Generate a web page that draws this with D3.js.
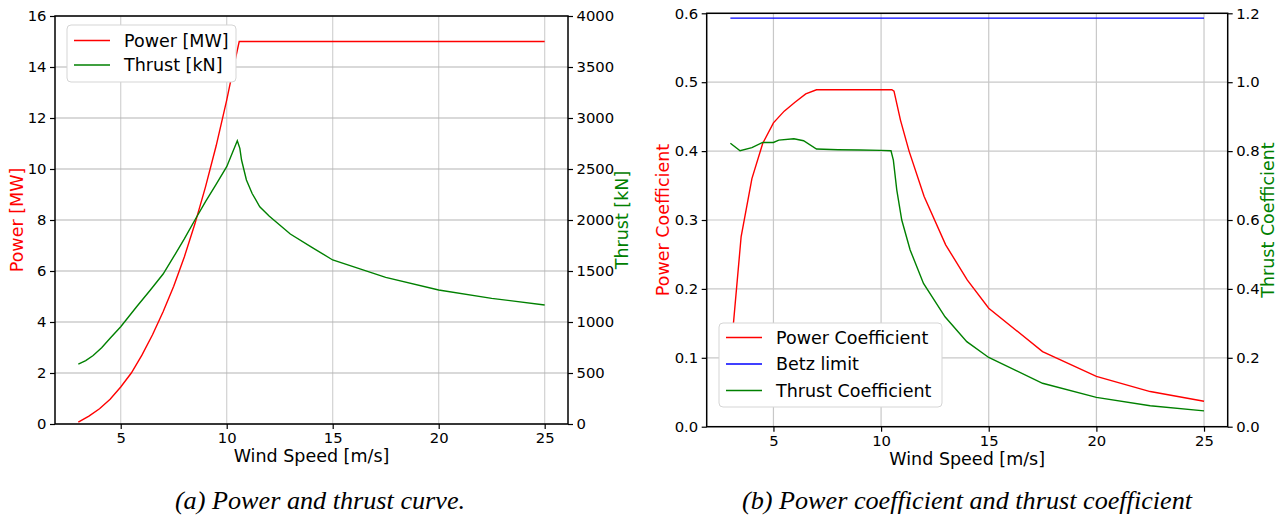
<!DOCTYPE html>
<html>
<head>
<meta charset="utf-8">
<script src="https://cdn.jsdelivr.net/npm/d3@7"></script>
<style>
  body { margin: 0; background: #fff; }
  svg text { font-family: "DejaVu Sans", sans-serif; }
  .caption { font-family: "Liberation Serif", "Times New Roman", serif; font-style: italic; }
</style>
</head>
<body>
<svg id="chart" width="1281" height="520"></svg>
<script>
// ---- data ----

// (a) power curve [MW]
var windPower = [3, 3.5, 4, 4.5, 5, 5.5, 6, 6.5, 7, 7.5, 8, 8.5, 9, 9.5, 10, 10.3, 10.59,
  11, 12, 13, 14, 15, 17.5, 20, 22.5, 25];
var power = [0.07, 0.31, 0.6, 0.97, 1.45, 2.0, 2.7, 3.5, 4.4, 5.4, 6.55, 7.85, 9.3, 10.9, 12.7, 13.9, 15,
  15, 15, 15, 15, 15, 15, 15, 15, 15];

// (a) thrust curve [kN]
var windThrust = [3, 3.35, 3.7, 4.1, 4.5, 5, 5.75, 6.4, 7, 7.5, 8, 8.5, 9, 9.5, 10, 10.5, 10.62, 10.7, 10.93,
  11.2, 11.56, 12, 12.5, 13, 14, 15, 17.5, 20, 22.5, 25];
var thrust = [588, 622, 672, 748, 840, 954, 1150, 1314, 1470, 1640, 1815, 2000, 2180, 2350, 2523, 2777, 2703, 2588, 2392,
  2260, 2130, 2040, 1951, 1863, 1735, 1608, 1438, 1314, 1232, 1167];

// (b) power coefficient
var windCp = [3, 3.5, 4, 4.5, 5, 5.5, 6, 6.5, 7, 8, 9, 10, 10.5, 10.6, 10.9, 11.3,
  12, 13, 14, 15, 17.5, 20, 22.5, 25];
var cp = [0.10, 0.276, 0.36, 0.411, 0.441, 0.458, 0.471, 0.483, 0.489, 0.489, 0.489, 0.489, 0.489, 0.487, 0.445, 0.40,
  0.334, 0.264, 0.213, 0.172, 0.109, 0.073, 0.051, 0.037];

// (b) Betz limit
var windBetz = [3, 25];
var betz = [0.593, 0.593];

// (b) thrust coefficient
var windCt = [3, 3.45, 4, 4.5, 5, 5.25, 5.95, 6.4, 7, 8, 9, 10, 10.46, 10.57, 10.73, 10.96, 11.35,
  11.97, 12.97, 13.98, 15, 17.5, 20, 22.5, 25];
var ct = [0.823, 0.801, 0.810, 0.825, 0.825, 0.832, 0.836, 0.830, 0.806, 0.804, 0.803, 0.802, 0.801, 0.774, 0.687, 0.600, 0.513,
  0.416, 0.319, 0.247, 0.201, 0.126, 0.085, 0.061, 0.046];

var xTicks = [5, 10, 15, 20, 25];

var svg = d3.select("#chart");

function zip(xs, ys) { return xs.map(function (x, i) { return [x, ys[i]]; }); }

function drawPanel(p) {
  var g = svg.append("g");
  var x = d3.scaleLinear().domain([1.9, 26.1]).range([p.left, p.right]);
  var yL = d3.scaleLinear().domain(p.yLDomain).range([p.bottom, p.top]);
  var yR = d3.scaleLinear().domain(p.yRDomain).range([p.bottom, p.top]);

  // grid
  g.append("g").selectAll("line").data(xTicks).join("line")
    .attr("x1", function (d) { return x(d); }).attr("x2", function (d) { return x(d); })
    .attr("y1", p.top).attr("y2", p.bottom)
    .attr("stroke", p.vGrid).attr("stroke-width", 1.2);
  g.append("g").selectAll("line").data(p.yLTicks).join("line")
    .attr("x1", p.left).attr("x2", p.right)
    .attr("y1", function (d) { return yL(d); }).attr("y2", function (d) { return yL(d); })
    .attr("stroke", p.hGrid).attr("stroke-width", 1.2);

  // series
  var line = d3.line();
  p.series.forEach(function (s) {
    var ys = s.axis === "left" ? yL : yR;
    g.append("path")
      .datum(zip(s.x, s.y))
      .attr("fill", "none")
      .attr("stroke", s.color)
      .attr("stroke-width", 1.4)
      .attr("d", line.x(function (d) { return x(d[0]); }).y(function (d) { return ys(d[1]); }));
  });

  // axes
  var ax = g.append("g").attr("transform", "translate(0," + p.bottom + ")")
    .call(d3.axisBottom(x).tickValues(xTicks).tickSize(5).tickPadding(3.5).tickSizeOuter(0));
  var al = g.append("g").attr("transform", "translate(" + p.left + ",0)")
    .call(d3.axisLeft(yL).tickValues(p.yLTicks).tickFormat(p.yLFormat).tickSize(5).tickPadding(3.5).tickSizeOuter(0));
  var ar = g.append("g").attr("transform", "translate(" + p.right + ",0)")
    .call(d3.axisRight(yR).tickValues(p.yRTicks).tickFormat(p.yRFormat).tickSize(5).tickPadding(3.5).tickSizeOuter(0));
  [ax, al, ar].forEach(function (a) {
    a.selectAll("text").attr("font-size", "14.8px").attr("fill", "#000")
      .attr("font-family", "DejaVu Sans, sans-serif");
    a.selectAll(".tick line").attr("stroke", "#000").attr("stroke-width", 1.2);
    a.select(".domain").remove();
  });
  // spines
  g.append("rect").attr("x", p.left).attr("y", p.top)
    .attr("width", p.right - p.left).attr("height", p.bottom - p.top)
    .attr("fill", "none").attr("stroke", "#000").attr("stroke-width", 1.5);

  // labels
  g.append("text").attr("x", (p.left + p.right) / 2).attr("y", p.bottom + 38)
    .attr("text-anchor", "middle").attr("font-size", "17.5px").text("Wind Speed [m/s]");
  g.append("text").attr("transform", "translate(" + p.yLLabelX + "," + (p.top + p.bottom) / 2 + ") rotate(-90)")
    .attr("text-anchor", "middle").attr("dy", "0.35em").attr("font-size", "17.5px")
    .attr("fill", "#ff0000").text(p.yLLabel);
  g.append("text").attr("transform", "translate(" + p.yRLabelX + "," + (p.top + p.bottom) / 2 + ") rotate(-90)")
    .attr("text-anchor", "middle").attr("dy", "0.35em").attr("font-size", "17.5px")
    .attr("fill", "#008000").text(p.yRLabel);

  // legend
  var lg = g.append("g");
  lg.append("rect").attr("x", p.legend.x).attr("y", p.legend.y)
    .attr("width", p.legend.w).attr("height", p.legend.h).attr("rx", 4)
    .attr("fill", "#fff").attr("fill-opacity", 1)
    .attr("stroke", "#d5d5d5").attr("stroke-width", 1);
  p.legend.items.forEach(function (it, i) {
    var yy = p.legend.y + p.legend.first + i * p.legend.step;
    lg.append("line").attr("x1", p.legend.x + 7).attr("x2", p.legend.x + 43)
      .attr("y1", yy).attr("y2", yy).attr("stroke", it.color).attr("stroke-width", 1.4);
    lg.append("text").attr("x", p.legend.x + 57).attr("y", yy).attr("dy", "0.36em")
      .attr("font-size", "17.5px").text(it.label);
  });

  svg.append("text").attr("class", "caption")
    .attr("x", p.captionX).attr("y", 509).attr("text-anchor", "middle")
    .attr("font-size", "26.2px").text(p.caption);
}

drawPanel({
  left: 55, right: 568, top: 16, bottom: 424,
  yLDomain: [0, 16], yRDomain: [0, 4000],
  yLTicks: d3.range(0, 17, 2), yRTicks: d3.range(0, 4001, 500),
  yLFormat: d3.format("d"), yRFormat: d3.format("d"),
  vGrid: "#d2d2d2", hGrid: "#b4b4b4",
  yLLabel: "Power [MW]", yRLabel: "Thrust [kN]", yLLabelX: 17, yRLabelX: 622,
  series: [
    { x: windPower, y: power, color: "#ff0000", axis: "left" },
    { x: windThrust, y: thrust, color: "#008000", axis: "right" }
  ],
  legend: { x: 67, y: 25, w: 169, h: 57, first: 15.5, step: 24.5,
    items: [{ label: "Power [MW]", color: "#ff0000" }, { label: "Thrust [kN]", color: "#008000" }] },
  caption: "(a) Power and thrust curve.", captionX: 320
});

drawPanel({
  left: 706.7, right: 1227.7, top: 13.3, bottom: 426.7,
  yLDomain: [0, 0.6], yRDomain: [0, 1.2],
  yLTicks: d3.range(0, 7).map(function (i) { return i / 10; }),
  yRTicks: d3.range(0, 7).map(function (i) { return i / 5; }),
  yLFormat: d3.format(".1f"), yRFormat: d3.format(".1f"),
  vGrid: "#c8c8c8", hGrid: "#c8c8c8",
  yLLabel: "Power Coefficient", yRLabel: "Thrust Coefficient", yLLabelX: 662.5, yRLabelX: 1268,
  series: [
    { x: windCp, y: cp, color: "#ff0000", axis: "left" },
    { x: windBetz, y: betz, color: "#0000ff", axis: "left" },
    { x: windCt, y: ct, color: "#008000", axis: "right" }
  ],
  legend: { x: 719, y: 323, w: 223, h: 84, first: 14.5, step: 26.5,
    items: [{ label: "Power Coefficient", color: "#ff0000" }, { label: "Betz limit", color: "#0000ff" },
      { label: "Thrust Coefficient", color: "#008000" }] },
  caption: "(b) Power coefficient and thrust coefficient", captionX: 967
});
</script>
</body>
</html>
